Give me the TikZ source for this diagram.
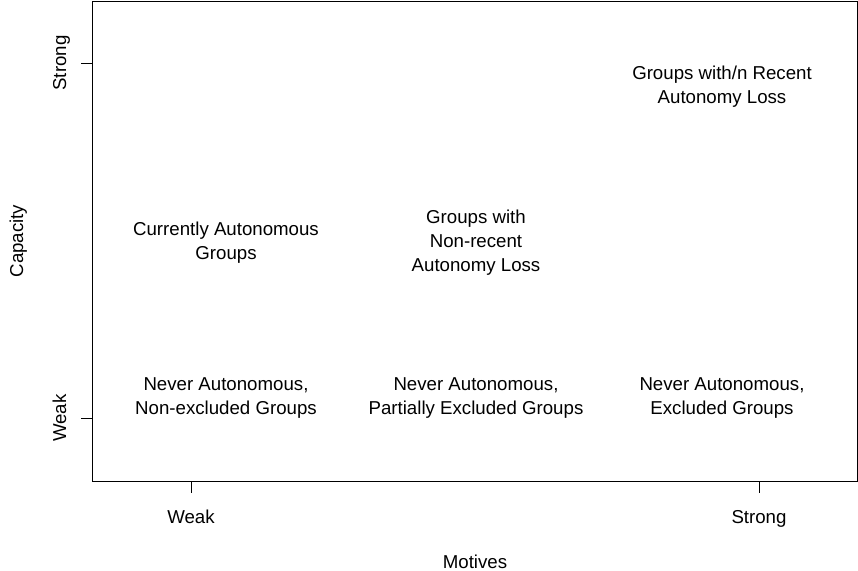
\documentclass[tikz,border=0pt]{standalone}
\usepackage{fontspec}
\setmainfont{Liberation Sans}
\usetikzlibrary{positioning}

\tikzset{
    celltext/.style={align=center, font=\fontsize{14}{18}\selectfont},
    ticklabel/.style={anchor=base, font=\fontsize{14}{18}\selectfont},
    tickmark/.style={line width=0.75pt}
}

\begin{document}
\begin{tikzpicture}[x=0.75pt, y=-0.75pt]
    \useasboundingbox (0,0) rectangle (858,571);
    % =========================================================
    % PLOT FRAME AND TICKS
    % =========================================================
    \draw[line width=0.75pt] (92,1) rectangle (857,481);
    \draw[tickmark] (191,481) -- (191,493);
    \draw[tickmark] (759,481) -- (759,493);
    \draw[tickmark] (81,63) -- (92,63);
    \draw[tickmark] (81,418) -- (92,418);

    % tick labels and axis titles (placed on their baselines)
    \node[ticklabel] (xweak) at (191,523) {Weak};
    \node[ticklabel] (xstrong) at (759,523) {Strong};
    \node[ticklabel, rotate=90] (yweak) at (66,418) {Weak};
    \node[ticklabel, rotate=90] (ystrong) at (66,63) {Strong};
    \node[ticklabel] (motives) at (475,568) {Motives};
    \node[ticklabel, rotate=90] (capacity) at (23,241) {Capacity};

    % =========================================================
    % GROUP CATEGORIES
    % =========================================================
    \node[celltext] (recentloss) at (722,87) {Groups with/n Recent\\Autonomy Loss};
    \node[celltext] (autonomous) at (226,243) {Currently Autonomous\\Groups};
    \node[celltext] (nonrecent) at (476,243) {Groups with\\Non-recent\\Autonomy Loss};
    \node[celltext] (nonexcluded) at (226,398) {Never Autonomous,\\Non-excluded Groups};
    \node[celltext] (partial) at (476,398) {Never Autonomous,\\Partially Excluded Groups};
    \node[celltext] (excluded) at (722,398) {Never Autonomous,\\Excluded Groups};
\end{tikzpicture}
\end{document}
